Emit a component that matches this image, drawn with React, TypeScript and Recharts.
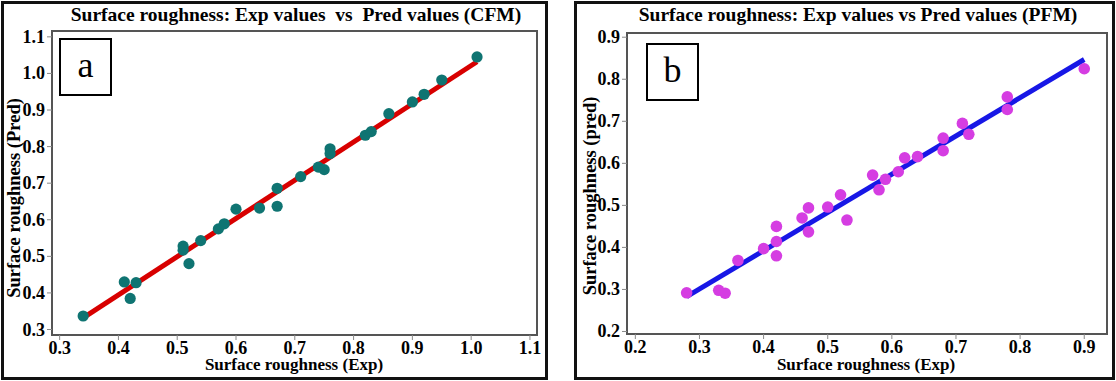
import React from 'react';
import { ScatterChart, Scatter, XAxis, YAxis, ReferenceArea } from 'recharts';

// Panel (a) CFM: experimental vs predicted
const cfmExp = [0.34, 0.41, 0.42, 0.43, 0.51, 0.51, 0.52, 0.54, 0.57, 0.58, 0.60, 0.64, 0.67, 0.67, 0.71, 0.74, 0.75, 0.76, 0.76, 0.82, 0.83, 0.86, 0.90, 0.92, 0.95, 1.01];
const cfmPred = [0.337, 0.43, 0.385, 0.428, 0.528, 0.517, 0.48, 0.543, 0.575, 0.589, 0.629, 0.632, 0.686, 0.637, 0.718, 0.744, 0.737, 0.794, 0.781, 0.831, 0.841, 0.89, 0.922, 0.943, 0.982, 1.045];
const cfmFitX = [0.34, 1.01];
const cfmFitY = [0.332, 1.032];

// Panel (b) PFM: experimental vs predicted
const pfmExp = [0.28, 0.33, 0.34, 0.36, 0.40, 0.42, 0.42, 0.42, 0.46, 0.47, 0.47, 0.50, 0.52, 0.53, 0.57, 0.58, 0.59, 0.61, 0.62, 0.64, 0.68, 0.68, 0.71, 0.72, 0.78, 0.78, 0.90];
const pfmPred = [0.292, 0.298, 0.291, 0.369, 0.397, 0.45, 0.414, 0.38, 0.47, 0.494, 0.437, 0.496, 0.525, 0.465, 0.572, 0.537, 0.562, 0.58, 0.613, 0.616, 0.66, 0.63, 0.695, 0.669, 0.758, 0.728, 0.825];
const pfmFitX = [0.28, 0.90];
const pfmFitY = [0.283, 0.847];

const cfmTicksX = [0.3, 0.4, 0.5, 0.6, 0.7, 0.8, 0.9, 1.0, 1.1];
const cfmTicksY = [0.3, 0.4, 0.5, 0.6, 0.7, 0.8, 0.9, 1.0, 1.1];
const pfmTicksX = [0.2, 0.3, 0.4, 0.5, 0.6, 0.7, 0.8, 0.9];
const pfmTicksY = [0.2, 0.3, 0.4, 0.5, 0.6, 0.7, 0.8, 0.9];

const cfmDomainX: [number, number] = [0.287, 1.112];
const cfmDomainY: [number, number] = [0.285, 1.116];
const pfmDomainX: [number, number] = [0.187, 0.9355];
const pfmDomainY: [number, number] = [0.194, 0.91];

const zip = (xs: number[], ys: number[]) => xs.map((x, i) => ({ x, y: ys[i] }));

const SERIF = "'Liberation Serif', 'Times New Roman', serif";
const tickTextStyle: React.CSSProperties = { fontFamily: SERIF, fontWeight: 700, fontSize: 18 };

const renderXTick = (props: any) => {
  const { x, y, payload } = props;
  return (
    <text key={`xt-${payload.value}`} x={x} y={y} dy={12} textAnchor="middle" fill="#000" style={tickTextStyle}>
      {Number(payload.value).toFixed(1)}
    </text>
  );
};
const renderYTick = (props: any) => {
  const { x, y, payload } = props;
  return (
    <text key={`yt-${payload.value}`} x={x} y={y} dy={6} textAnchor="end" fill="#000" style={tickTextStyle}>
      {Number(payload.value).toFixed(1)}
    </text>
  );
};

const dotShape = (color: string, r: number) => (props: any) => (
  <circle cx={props.cx} cy={props.cy} r={r} fill={color} />
);
const noShape = () => <g />;

type PanelProps = {
  left: number;
  width: number;
  margin: { top: number; right: number; left: number; bottom: number };
  yAxisWidth: number;
  xAxisHeight: number;
  domainX: [number, number];
  domainY: [number, number];
  ticksX: number[];
  ticksY: number[];
  points: { x: number; y: number }[];
  fit: { x: number; y: number }[];
  dotColor: string;
  dotR: number;
  lineColor: string;
};

function Panel(p: PanelProps) {
  return (
    <div style={{ position: 'absolute', left: p.left, top: 0 }}>
      <ScatterChart width={p.width} height={381} margin={p.margin} style={{ fontFamily: SERIF }}>
        <XAxis
          type="number"
          dataKey="x"
          domain={p.domainX}
          ticks={p.ticksX}
          allowDataOverflow
          height={p.xAxisHeight}
          axisLine={false}
          tickLine={{ stroke: '#888' }}
          tickSize={5}
          tickMargin={2}
          tick={renderXTick}
          interval={0}
        />
        <YAxis
          type="number"
          dataKey="y"
          domain={p.domainY}
          ticks={p.ticksY}
          allowDataOverflow
          width={p.yAxisWidth}
          axisLine={false}
          tickLine={{ stroke: '#888' }}
          tickSize={5}
          tickMargin={2}
          tick={renderYTick}
          interval={0}
        />
        <ReferenceArea
          x1={p.domainX[0]}
          x2={p.domainX[1]}
          y1={p.domainY[0]}
          y2={p.domainY[1]}
          fill="none"
          fillOpacity={0}
          stroke="#555"
          strokeWidth={2}
          ifOverflow="visible"
        />
        <Scatter
          data={p.fit}
          line={{ stroke: p.lineColor, strokeWidth: 5 }}
          shape={noShape}
          fill="none"
          isAnimationActive={false}
        />
        <Scatter
          data={p.points}
          shape={dotShape(p.dotColor, p.dotR)}
          fill={p.dotColor}
          isAnimationActive={false}
        />
      </ScatterChart>
    </div>
  );
}

const textBase: React.CSSProperties = {
  position: 'absolute',
  fontFamily: SERIF,
  fontWeight: 700,
  color: '#000',
  whiteSpace: 'pre',
  lineHeight: 1,
};

function Centered({ x, y, size, text, rotate }: { x: number; y: number; size: number; text: string; rotate?: boolean }) {
  return (
    <div
      style={{
        ...textBase,
        left: x,
        top: y,
        fontSize: size,
        transform: `translate(-50%, -50%)${rotate ? ' rotate(-90deg)' : ''}`,
      }}
    >
      {text}
    </div>
  );
}

function LetterBox({ left, top, width, height, letter }: { left: number; top: number; width: number; height: number; letter: string }) {
  return (
    <div
      style={{
        position: 'absolute',
        left,
        top,
        width,
        height,
        boxSizing: 'border-box',
        border: '2px solid #000',
        background: '#fff',
        display: 'flex',
        alignItems: 'center',
        justifyContent: 'center',
        fontFamily: SERIF,
        fontSize: 36,
        lineHeight: 1,
        color: '#000',
      }}
    >
      <span style={{ marginTop: -4 }}>{letter}</span>
    </div>
  );
}

export default function App() {
  return (
    <div style={{ position: 'absolute', left: 0, top: 0, width: 1116, height: 381, background: '#fff', overflow: 'hidden', fontFamily: SERIF }}>
      <div style={{ position: 'absolute', left: 1, top: 1, width: 547, height: 379, boxSizing: 'border-box', border: '3px solid #111' }} />
      <div style={{ position: 'absolute', left: 574, top: 1, width: 541, height: 379, boxSizing: 'border-box', border: '3px solid #111' }} />

      <Panel
        left={0}
        width={550}
        margin={{ top: 31, right: 13, left: 0, bottom: 0 }}
        yAxisWidth={52}
        xAxisHeight={46}
        domainX={cfmDomainX}
        domainY={cfmDomainY}
        ticksX={cfmTicksX}
        ticksY={cfmTicksY}
        points={zip(cfmExp, cfmPred)}
        fit={zip(cfmFitX, cfmFitY)}
        dotColor="#0f7472"
        dotR={5.6}
        lineColor="#d80000"
      />
      <Panel
        left={560}
        width={556}
        margin={{ top: 33, right: 9, left: 0, bottom: 0 }}
        yAxisWidth={67}
        xAxisHeight={47}
        domainX={pfmDomainX}
        domainY={pfmDomainY}
        ticksX={pfmTicksX}
        ticksY={pfmTicksY}
        points={zip(pfmExp, pfmPred)}
        fit={zip(pfmFitX, pfmFitY)}
        dotColor="#d53de2"
        dotR={5.8}
        lineColor="#1717e6"
      />

      <LetterBox left={59} top={38} width={53} height={58} letter="a" />
      <LetterBox left={646} top={43} width={53} height={58} letter="b" />

      <Centered x={296} y={15} size={19.5} text={'Surface roughness: Exp values  vs  Pred values (CFM)'} />
      <Centered x={858} y={15} size={19.5} text={'Surface roughness: Exp values vs Pred values (PFM)'} />
      <Centered x={294} y={364} size={17} text={'Surface roughness (Exp)'} />
      <Centered x={866} y={364} size={17} text={'Surface roughness (Exp)'} />
      <Centered x={14} y={198} size={18.5} text={'Surface roughness (Pred)'} rotate />
      <Centered x={590} y={196} size={18.5} text={'Surface roughness (pred)'} rotate />
    </div>
  );
}
